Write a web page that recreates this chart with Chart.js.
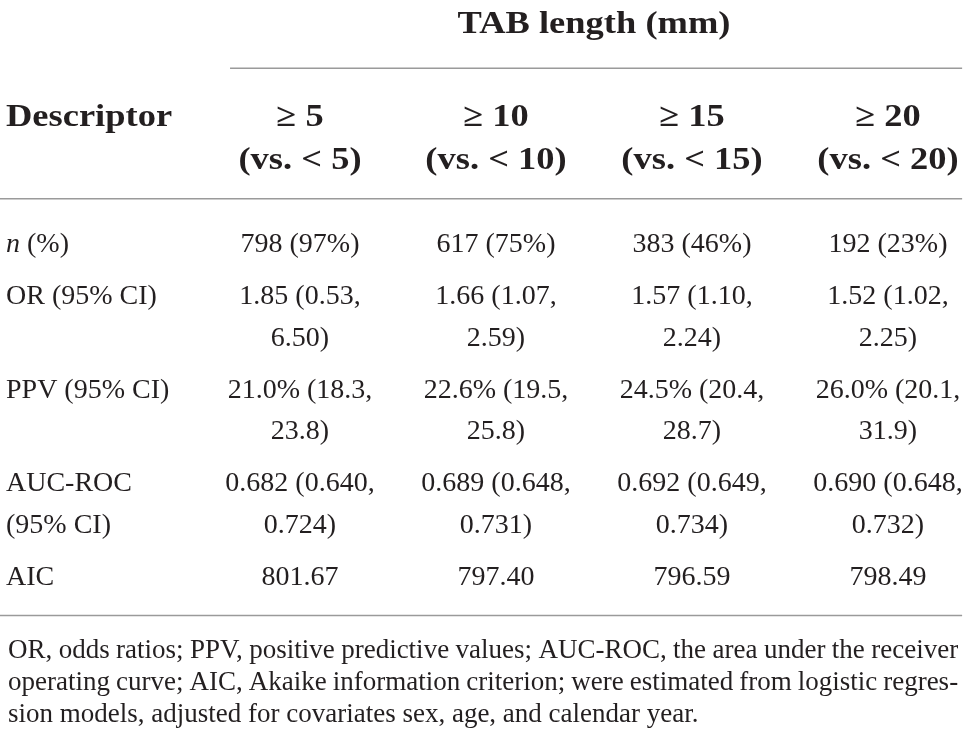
<!DOCTYPE html>
<html>
<head>
<meta charset="utf-8">
<script src="https://cdn.jsdelivr.net/npm/chart.js@4.4.0/dist/chart.umd.min.js"></script>
<style>
  html, body { margin: 0; padding: 0; background: #fff; }
  canvas { display: block; }
</style>
</head>
<body>
<canvas id="myChart" width="968" height="744"></canvas>
<script>
// table content
const title = "TAB length (mm)";
const headLabel = "Descriptor";
const columns = ["≥ 5", "≥ 10", "≥ 15", "≥ 20"];
const versus = ["(vs. < 5)", "(vs. < 10)", "(vs. < 15)", "(vs. < 20)"];
const rowLabels = [["n (%)"], ["OR (95% CI)"], ["PPV (95% CI)"], ["AUC-ROC", "(95% CI)"], ["AIC"]];

const nCount = [798, 617, 383, 192];
const nPct = [97, 75, 46, 23];
const orEst = [1.85, 1.66, 1.57, 1.52];
const orLow = [0.53, 1.07, 1.10, 1.02];
const orHigh = [6.50, 2.59, 2.24, 2.25];
const ppvEst = [21.0, 22.6, 24.5, 26.0];
const ppvLow = [18.3, 19.5, 20.4, 20.1];
const ppvHigh = [23.8, 25.8, 28.7, 31.9];
const aucEst = [0.682, 0.689, 0.692, 0.690];
const aucLow = [0.640, 0.648, 0.649, 0.648];
const aucHigh = [0.724, 0.731, 0.734, 0.732];
const aic = [801.67, 797.40, 796.59, 798.49];

const footnote = [
  "OR, odds ratios; PPV, positive predictive values; AUC-ROC, the area under the receiver",
  "operating curve; AIC, Akaike information criterion; were estimated from logistic regres-",
  "sion models, adjusted for covariates sex, age, and calendar year."
];

const cells = [
  nCount.map((n, i) => [`${n} (${nPct[i]}%)`]),
  orEst.map((v, i) => [`${v.toFixed(2)} (${orLow[i].toFixed(2)},`, `${orHigh[i].toFixed(2)})`]),
  ppvEst.map((v, i) => [`${v.toFixed(1)}% (${ppvLow[i].toFixed(1)},`, `${ppvHigh[i].toFixed(1)})`]),
  aucEst.map((v, i) => [`${v.toFixed(3)} (${aucLow[i].toFixed(3)},`, `${aucHigh[i].toFixed(3)})`]),
  aic.map((v) => [v.toFixed(2)])
];

const ink = "#231f20";
const ruleColor = "#9a9a9a";
const bodyFont = "28px 'Liberation Serif'";
const boldFont = "bold 32px 'Liberation Serif'";
const noteFont = "27px 'Liberation Serif'";

function drawText(ctx, text, px, py, font, align, stretch) {
  ctx.save();
  ctx.font = font;
  ctx.fillStyle = ink;
  ctx.textAlign = align;
  ctx.textBaseline = "middle";
  ctx.translate(px, py);
  ctx.scale(stretch || 1, 1);
  ctx.fillText(text, 0, 0);
  ctx.restore();
}

function drawRule(ctx, x0, x1, py) {
  ctx.save();
  ctx.strokeStyle = ruleColor;
  ctx.lineWidth = 1.5;
  ctx.beginPath();
  ctx.moveTo(x0, py);
  ctx.lineTo(x1, py);
  ctx.stroke();
  ctx.restore();
}

function drawJustified(ctx, text, x0, x1, py) {
  ctx.save();
  ctx.font = noteFont;
  ctx.fillStyle = ink;
  ctx.textBaseline = "middle";
  ctx.textAlign = "left";
  const words = text.split(" ");
  const total = words.reduce((s, w) => s + ctx.measureText(w).width, 0);
  const gap = (x1 - x0 - total) / (words.length - 1);
  let px = x0;
  words.forEach((w) => {
    ctx.fillText(w, px, py);
    px += ctx.measureText(w).width + gap;
  });
  ctx.restore();
}

const tablePlugin = {
  id: "tablePlugin",
  afterDraw(chart) {
    const { ctx, scales: { x, y } } = chart;
    const left = x.getPixelForValue(-1.5);
    const right = x.getPixelForValue(3.378);

    // header
    drawText(ctx, title, x.getPixelForValue(1.5), y.getPixelForValue(-5.3), boldFont, "center", 1.14);
    drawRule(ctx, x.getPixelForValue(-0.357), right, y.getPixelForValue(-4.25));
    drawText(ctx, headLabel, left, y.getPixelForValue(-3.05), boldFont, "left", 1.14);
    columns.forEach((c, i) => {
      drawText(ctx, c, x.getPixelForValue(i), y.getPixelForValue(-3.05), boldFont, "center", 1.14);
      drawText(ctx, versus[i], x.getPixelForValue(i), y.getPixelForValue(-2.02), boldFont, "center", 1.14);
    });
    drawRule(ctx, 0, right, y.getPixelForValue(-1.11));

    // body rows
    let slot = 0;
    rowLabels.forEach((lines, r) => {
      lines.forEach((t, k) => {
        const py = y.getPixelForValue(slot + k);
        if (t.startsWith("n ")) {
          ctx.save();
          ctx.font = "italic " + bodyFont;
          const w = ctx.measureText("n").width;
          ctx.restore();
          drawText(ctx, "n", left, py, "italic " + bodyFont, "left");
          drawText(ctx, t.slice(1), left + w, py, bodyFont, "left");
        } else {
          drawText(ctx, t, left, py, bodyFont, "left");
        }
      });
      cells[r].forEach((cellLines, i) => {
        cellLines.forEach((t, k) => {
          drawText(ctx, t, x.getPixelForValue(i), y.getPixelForValue(slot + k), bodyFont, "center");
        });
      });
      const n = Math.max(lines.length, cells[r][0].length);
      slot += n + 0.25;
    });
    drawRule(ctx, 0, right, y.getPixelForValue(8.91));

    // footnote
    footnote.forEach((t, k) => {
      const py = y.getPixelForValue(9.76 + k * 0.775);
      if (k < footnote.length - 1) {
        drawJustified(ctx, t, left + 2, right - 4, py);
      } else {
        drawText(ctx, t, left + 2, py, noteFont, "left");
      }
    });
  }
};

const canvas = document.getElementById("myChart");
const tableChart = new Chart(canvas, {
  type: "scatter",
  data: { datasets: [{ data: [] }] },
  options: {
    responsive: false,
    animation: false,
    events: [],
    layout: { padding: { left: 6, right: 0, top: 0, bottom: 0 } },
    plugins: { legend: { display: false }, tooltip: { enabled: false } },
    scales: {
      x: { type: "linear", min: -1.5, max: 3.408, display: false },
      y: { type: "linear", min: -5.89, max: 12.0, reverse: true, display: false }
    }
  },
  plugins: [tablePlugin]
});
</script>
</body>
</html>
